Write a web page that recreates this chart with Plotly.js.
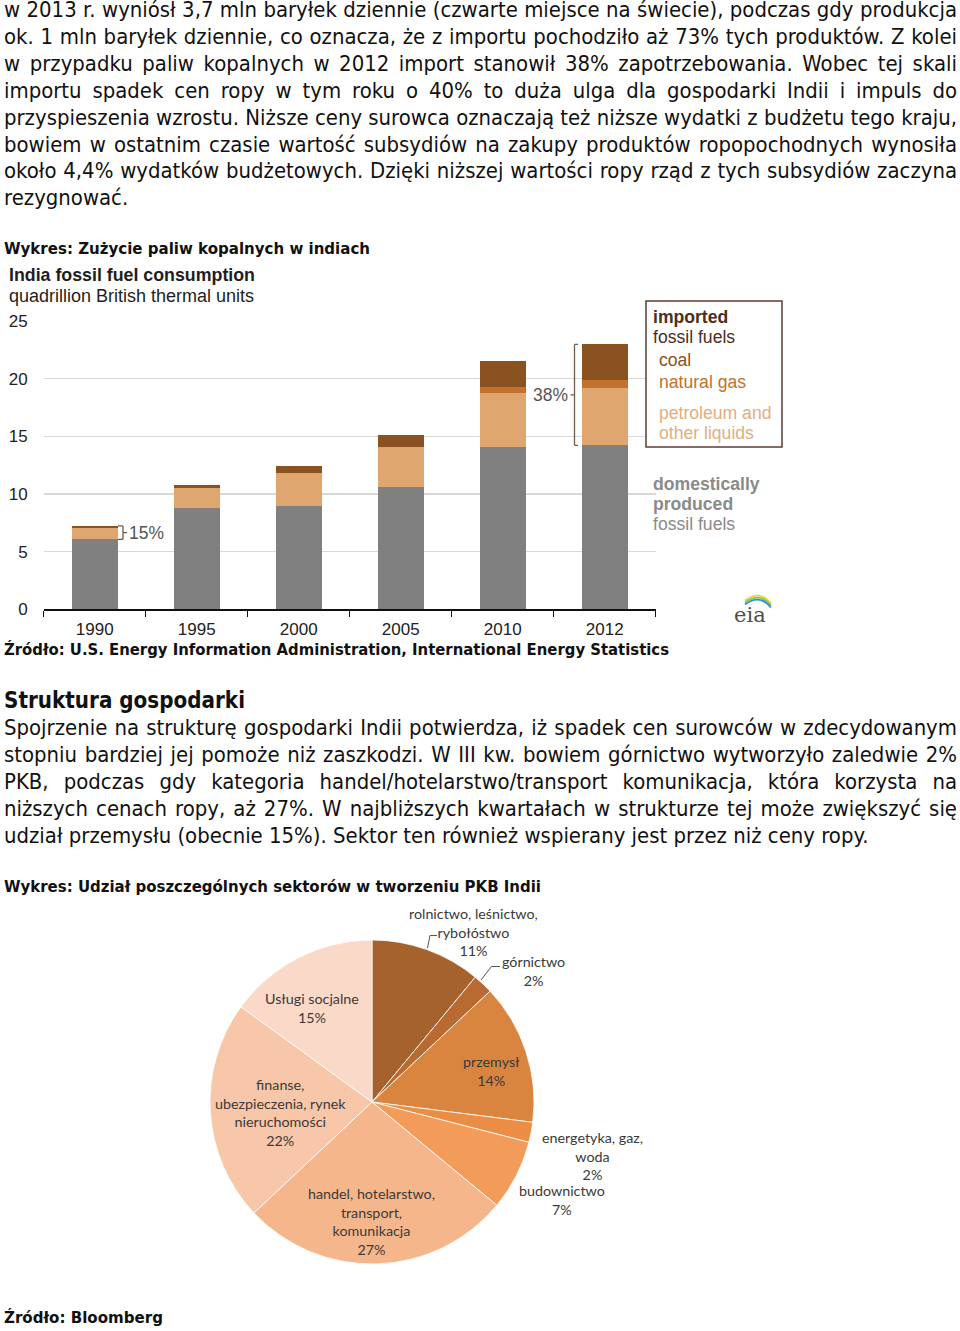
<!DOCTYPE html>
<html><head><meta charset="utf-8">
<script src="https://cdn.plot.ly/plotly-3.0.1.min.js"></script>
<style>
html,body{margin:0;padding:0;background:#fff;width:960px;height:1331px;overflow:hidden}
#chart{position:absolute;left:0;top:0;width:960px;height:1331px}
#txt{position:absolute;left:0;top:0;width:960px;height:1331px;pointer-events:none}
#txt span{position:absolute;white-space:pre;transform-origin:0 50%;color:#111}
</style></head><body>
<div id="chart"></div><div id="txt"></div>
<script>
// ---------- DATA ----------
const years = ['1990', '1995', '2000', '2005', '2010', '2012'];
const domestic = [6.07, 8.76, 8.96, 10.58, 14.10, 14.22];
const petroleum = [0.95, 1.76, 2.89, 3.47, 4.68, 4.94];
const naturalGas = [0, 0, 0, 0, 0.46, 0.69];
const coal = [0.21, 0.29, 0.61, 1.07, 2.33, 3.12];
const importLabels = ['15%', '38%']; // for 1990 and 2012

const sectors = ['rolnictwo, leśnictwo, rybołóstwo', 'górnictwo', 'przemysł', 'energetyka, gaz, woda',
  'budownictwo', 'handel, hotelarstwo, transport, komunikacja', 'finanse, ubezpieczenia, rynek nieruchomości', 'Usługi socjalne'];
const sectorLabelLines = [['rolnictwo, leśnictwo,', 'rybołóstwo'], ['górnictwo'], ['przemysł'], ['energetyka, gaz,', 'woda'],
  ['budownictwo'], ['handel, hotelarstwo,', 'transport,', 'komunikacja'], ['finanse,', 'ubezpieczenia, rynek', 'nieruchomości'], ['Usługi socjalne']];
const shares = [11, 2, 14, 2, 7, 27, 22, 15];

const para1 = [
  'w 2013 r. wyniósł 3,7 mln baryłek dziennie (czwarte miejsce na świecie), podczas gdy produkcja',
  'ok. 1 mln baryłek dziennie, co oznacza, że z importu pochodziło aż 73% tych produktów. Z kolei',
  'w przypadku paliw kopalnych w 2012 import stanowił 38% zapotrzebowania. Wobec tej skali',
  'importu spadek cen ropy w tym roku o 40% to duża ulga dla gospodarki Indii i impuls do',
  'przyspieszenia wzrostu. Niższe ceny surowca oznaczają też niższe wydatki z budżetu tego kraju,',
  'bowiem w ostatnim czasie wartość subsydiów na zakupy produktów ropopochodnych wynosiła',
  'około 4,4% wydatków budżetowych. Dzięki niższej wartości ropy rząd z tych subsydiów zaczyna',
  'rezygnować.'];
const para2 = [
  'Spojrzenie na strukturę gospodarki Indii potwierdza, iż spadek cen surowców w zdecydowanym',
  'stopniu bardziej jej pomoże niż zaszkodzi. W III kw. bowiem górnictwo wytworzyło zaledwie 2%',
  'PKB, podczas gdy kategoria handel/hotelarstwo/transport komunikacja, która korzysta na',
  'niższych cenach ropy, aż 27%. W najbliższych kwartałach w strukturze tej może zwiększyć się',
  'udział przemysłu (obecnie 15%). Sektor ten również wspierany jest przez niż ceny ropy.'];

// ---------- LAYOUT HELPERS ----------
const W = 960, H = 1331;
const px = x => x / W;
const py = y => 1 - y / H;
const total = years.map((_, i) => domestic[i] + petroleum[i] + naturalGas[i] + coal[i]);

const COL = {dom: '#808080', pet: '#dfa66f', gas: '#c2722c', coal: '#8a5221'};
const pieColors = ['#a6622c', '#b96a31', '#d9843f', '#eb8d44', '#f39b58', '#f6b68c', '#f8c6a8', '#fad9c9'];

const barFont = 'Liberation Sans, Arial, sans-serif';
const traces = [
  {type: 'bar', x: years, y: domestic, name: 'domestic', marker: {color: COL.dom}, xaxis: 'x', yaxis: 'y', hoverinfo: 'none'},
  {type: 'bar', x: years, y: petroleum, name: 'petroleum', marker: {color: COL.pet}, xaxis: 'x', yaxis: 'y', hoverinfo: 'none'},
  {type: 'bar', x: years, y: naturalGas, name: 'gas', marker: {color: COL.gas}, xaxis: 'x', yaxis: 'y', hoverinfo: 'none'},
  {type: 'bar', x: years, y: coal, name: 'coal', marker: {color: COL.coal}, xaxis: 'x', yaxis: 'y', hoverinfo: 'none'},
  {type: 'pie', values: shares, labels: sectors, sort: false, direction: 'clockwise', rotation: 0,
   textinfo: 'none', hoverinfo: 'none', showlegend: false,
   marker: {colors: pieColors, line: {color: '#ffffff', width: 0.8}},
   domain: {x: [px(372 - 162), px(372 + 162)], y: [py(1102 + 162), py(1102 - 162)]}}
];

const ann = [];
const shapes = [];
const A = (text, x, y, opt) => ann.push(Object.assign({text, x: px(x), y: py(y), xref: 'paper', yref: 'paper',
  showarrow: false, xanchor: 'left', yanchor: 'middle', font: {family: barFont, size: 17, color: '#222'}}, opt || {}));

// bar chart title
A('<b>India fossil fuel consumption</b>', 7, 275, {font: {family: barFont, size: 17.8, color: '#1e1e1e'}});
A('quadrillion British thermal units', 7, 296, {font: {family: barFont, size: 18, color: '#1e1e1e'}});

// legend box
shapes.push({type: 'rect', xref: 'paper', yref: 'paper', x0: px(646), x1: px(782), y0: py(447), y1: py(301),
  line: {color: '#5e3d35', width: 1.5}, fillcolor: '#ffffff', layer: 'above'});
const LF = 17.6;
A('<b>imported</b>', 651, 317, {font: {family: barFont, size: LF, color: '#4b2e1d'}});
A('fossil fuels', 651, 337, {font: {family: barFont, size: LF, color: '#4b2e1d'}});
A('coal', 657, 360, {font: {family: barFont, size: LF, color: COL.coal}});
A('natural gas', 657, 382, {font: {family: barFont, size: LF, color: COL.gas}});
A('petroleum and', 657, 413, {font: {family: barFont, size: LF, color: '#e2ae7e'}});
A('other liquids', 657, 433, {font: {family: barFont, size: LF, color: '#e2ae7e'}});
A('<b>domestically</b>', 651, 484, {font: {family: barFont, size: LF, color: '#8a8a8a'}});
A('<b>produced</b>', 651, 504, {font: {family: barFont, size: LF, color: '#8a8a8a'}});
A('fossil fuels', 651, 524, {font: {family: barFont, size: LF, color: '#8a8a8a'}});

// brackets (data-driven vertical extent)
const bcol = '#6e5c4c';
function bracket(i, xv, hook, tickDir) {
  const y0 = domestic[i], y1 = total[i];
  const L = (x0, ya, x1, yb) => shapes.push({type: 'line', xref: 'paper', yref: 'y', x0: px(x0), x1: px(x1), y0: ya, y1: yb, line: {color: bcol, width: 1.3}});
  L(xv, y0, xv, y1);
  L(xv, y0, xv + hook, y0);
  L(xv, y1, xv + hook, y1);
  L(xv, (y0 + y1) / 2, xv + tickDir, (y0 + y1) / 2);
}
bracket(0, 123, -5, 4);
bracket(5, 574.5, 3.5, -4);
ann.push({text: importLabels[0], x: px(127), y: (domestic[0] + total[0]) / 2, xref: 'paper', yref: 'y', showarrow: false,
  xanchor: 'left', yanchor: 'middle', font: {family: barFont, size: 17.5, color: '#555'}});
ann.push({text: importLabels[1], x: px(570), y: (domestic[5] + total[5]) / 2, xref: 'paper', yref: 'y', showarrow: false,
  xanchor: 'right', yanchor: 'middle', font: {family: barFont, size: 17.5, color: '#555'}});

// eia logo
A('eia', 750, 615, {xanchor: 'center', font: {family: 'DejaVu Serif, Liberation Serif, serif', size: 21, color: '#4d4d4d'}});
const arc = (c, dy) => shapes.push({type: 'path', xref: 'paper', yref: 'paper',
  path: `M ${px(745)},${py(602 + dy)} Q ${px(760)},${py(591 + dy)} ${px(771)},${py(605 + dy)}`, line: {color: c, width: 1.8}});
arc('#e9d54a', -1.5); arc('#8fc54e', 0.5); arc('#2f94d6', 2.5);

// pie labels
const pieLabelPos = [[473, 932], [533, 971], [491, 1071], [592, 1156], [562, 1200], [371, 1221], [280, 1112], [312, 1008]];
const pieFont = {family: 'Lato, "Open Sans", sans-serif', size: 14.3, color: '#3a3a3a'};
sectorLabelLines.forEach((lines, i) => {
  ann.push({text: lines.concat([shares[i] + '%']).join('<br>'), x: px(pieLabelPos[i][0]), y: py(pieLabelPos[i][1]),
    xref: 'paper', yref: 'paper', showarrow: false, xanchor: 'center', yanchor: 'middle', align: 'center', font: pieFont});
});
const lead = (pts) => shapes.push({type: 'path', xref: 'paper', yref: 'paper',
  path: 'M ' + pts.map(p => px(p[0]) + ',' + py(p[1])).join(' L '), line: {color: '#555', width: 1}});
lead([[427.5, 948], [430, 935.5], [437, 935.5]]);
lead([[481, 980], [491.5, 966.5], [500, 966.5]]);

const layout = {
  width: W, height: H, margin: {l: 0, r: 0, t: 0, b: 0}, paper_bgcolor: '#fff', plot_bgcolor: '#fff',
  showlegend: false, barmode: 'stack', bargap: 0.55,
  xaxis: {domain: [px(43.7), px(655.7)], type: 'category', range: [-0.5, 5.5], tickson: 'boundaries',
    ticks: 'outside', ticklen: 6, tickwidth: 1.5, tickcolor: '#111', showline: true, linecolor: '#111', linewidth: 2,
    showgrid: false, zeroline: false, ticklabelstandoff: 3, tickfont: {family: barFont, size: 17, color: '#222'}, fixedrange: true},
  yaxis: {domain: [py(609.3), py(321)], range: [0, 25], dtick: 5, showgrid: true, gridcolor: '#d9d9d9', gridwidth: 1.5,
    zeroline: false, showline: false, ticks: '', ticklabelstandoff: 15, tickfont: {family: barFont, size: 17, color: '#222'}, fixedrange: true},
  annotations: ann, shapes: shapes
};
Plotly.newPlot('chart', traces, layout, {displayModeBar: false, staticPlot: true});

// ---------- HTML TEXT ----------
const txt = document.getElementById('txt');
const BODY = '"DejaVu Sans", sans-serif';
function mk(t, x, y, size, weight) {
  const s = document.createElement('span');
  s.textContent = t;
  s.style.left = x + 'px';
  s.style.top = (y - size * 0.52) + 'px';
  s.style.fontFamily = BODY;
  s.style.fontSize = size + 'px';
  s.style.lineHeight = size + 'px';
  s.style.fontWeight = weight || 'normal';
  txt.appendChild(s);
  return s;
}
const bodySize = 21, JW = 953;
const just = [], lasts = [];
para1.forEach((t, i) => { const s = mk(t, 4, 11 + 26.9 * i, bodySize); (i < para1.length - 1 ? just : lasts).push({s, t}); });
para2.forEach((t, i) => { const s = mk(t, 4, 729 + 27 * i, bodySize); (i < para2.length - 1 ? just : lasts).push({s, t}); });
just.forEach(o => o.w0 = o.s.getBoundingClientRect().width);
const c = Math.min(...just.map(o => JW / o.w0));
just.forEach(o => {
  const n = (o.t.match(/ /g) || []).length;
  const extra = (JW / c - o.w0) / n;
  o.s.style.wordSpacing = extra + 'px';
  o.s.style.transform = `scaleX(${c})`;
});
lasts.forEach(o => { o.s.style.transform = `scaleX(${c})`; });
const caps = [
  ['Wykres: Zużycie paliw kopalnych w indiach', 249, 16, 366],
  ['Źródło: U.S. Energy Information Administration, International Energy Statistics', 650, 16, 665],
  ['Struktura gospodarki', 701, 23, 241],
  ['Wykres: Udział poszczególnych sektorów w tworzeniu PKB Indii', 887, 16, 537],
  ['Źródło: Bloomberg', 1318, 16, 159]];
caps.forEach(([t, y, sz, w]) => {
  const s = mk(t, 4, y, sz, 'bold');
  const w0 = s.getBoundingClientRect().width;
  s.style.transform = `scaleX(${w / w0})`;
});
</script>
</body></html>
